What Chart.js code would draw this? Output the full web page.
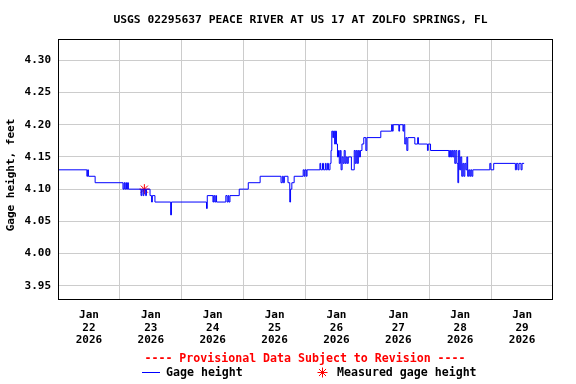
<!DOCTYPE html>
<html><head><meta charset="utf-8">
<script src="https://cdn.jsdelivr.net/npm/chart.js@4"></script>
<style>html,body{margin:0;padding:0;background:#fff}#wrap{width:576px;height:384px;position:relative}</style>
</head><body><div id="wrap"><canvas id="c" width="576" height="384"></canvas></div>
<script>
const chartTitle = 'USGS 02295637 PEACE RIVER AT US 17 AT ZOLFO SPRINGS, FL';
const yAxisTitle = 'Gage height, feet';
const provisionalText = '---- Provisional Data Subject to Revision ----';
const seriesLabels = ['Gage height', 'Measured gage height'];
const monthLabel = 'Jan';
const yearLabel = '2026';
const dayLabels = ['22', '23', '24', '25', '26', '27', '28', '29'];
const yTicks = [3.95, 4.00, 4.05, 4.10, 4.15, 4.20, 4.25, 4.30];

// hours since Jan 22 00:00
const gageHours = [
  0, 11.2, 11.5, 11.8, 14.4, 25.2, 25.6, 25.9, 26.3, 26.6, 27.0, 27.3,
  32.2, 32.5, 33.0, 33.3, 34.0, 34.3, 35.7, 36.3, 36.6, 37.6, 43.7, 44.0,
  57.6, 57.9, 60.1, 60.4, 60.8, 61.2, 61.5, 65.1, 65.6, 66.0, 66.3, 66.7,
  70.3, 73.8, 78.4, 86.5, 87.0, 87.4, 87.8, 89.2, 89.9, 90.2, 90.7, 91.6,
  95.1, 95.5, 95.8, 96.3, 96.6, 101.6, 101.9, 102.6, 103.0, 103.7, 104.0, 104.5,
  104.9, 105.5, 105.9, 106.2, 106.6, 106.9, 107.3, 107.6, 108.0, 108.4, 108.8, 109.1,
  109.5, 109.8, 110.2, 110.6, 111.0, 111.4, 111.8, 112.2, 112.6, 113.8, 114.9, 115.3,
  115.7, 116.1, 116.5, 116.9, 117.3, 117.9, 118.6, 119.4, 119.8, 125.2, 129.4, 129.7,
  130.0, 132.2, 132.5, 133.8, 134.1, 134.5, 134.9, 135.3, 135.7, 138.4, 139.5, 139.8,
  143.3, 143.6, 144.5, 151.6, 151.9, 152.3, 152.7, 153.1, 153.5, 153.9, 154.3, 154.7,
  155.1, 155.4, 155.8, 156.2, 156.6, 157.0, 157.4, 157.8, 158.2, 158.6, 158.9, 159.3,
  159.7, 160.1, 160.5, 160.9, 167.5, 167.9, 169.0, 177.4, 177.8, 178.4, 178.8, 179.6,
  180.0, 180.8
];
const gageValues = [
  4.13, 4.12, 4.13, 4.12, 4.11, 4.10, 4.11, 4.10, 4.11, 4.10, 4.11, 4.10,
  4.09, 4.10, 4.09, 4.10, 4.09, 4.10, 4.09, 4.08, 4.09, 4.08, 4.06, 4.08,
  4.07, 4.09, 4.08, 4.09, 4.08, 4.09, 4.08, 4.09, 4.08, 4.09, 4.08, 4.09,
  4.10, 4.11, 4.12, 4.11, 4.12, 4.11, 4.12, 4.11, 4.08, 4.10, 4.11, 4.12,
  4.13, 4.12, 4.13, 4.12, 4.13, 4.14, 4.13, 4.14, 4.13, 4.14, 4.13, 4.14,
  4.13, 4.14, 4.16, 4.19, 4.18, 4.19, 4.17, 4.19, 4.17, 4.15, 4.16, 4.14,
  4.16, 4.13, 4.15, 4.14, 4.16, 4.14, 4.15, 4.14, 4.15, 4.13, 4.16, 4.14,
  4.16, 4.14, 4.16, 4.15, 4.16, 4.17, 4.18, 4.16, 4.18, 4.19, 4.20, 4.19,
  4.20, 4.19, 4.20, 4.19, 4.20, 4.17, 4.18, 4.16, 4.18, 4.17, 4.18, 4.17,
  4.16, 4.17, 4.16, 4.15, 4.16, 4.15, 4.16, 4.15, 4.16, 4.14, 4.16, 4.14,
  4.11, 4.16, 4.13, 4.15, 4.12, 4.14, 4.12, 4.14, 4.13, 4.15, 4.12, 4.13,
  4.12, 4.13, 4.12, 4.13, 4.14, 4.13, 4.14, 4.13, 4.14, 4.13, 4.14, 4.13,
  4.14, 4.14
];
const measuredHours = [33.5];
const measuredValues = [4.10];

const FONT = "'DejaVu Sans Mono', monospace";
Chart.defaults.font.family = FONT;
Chart.defaults.font.size = 11;
Chart.defaults.font.weight = 'bold';
Chart.defaults.color = '#000';

function drawStar(ctx, x, y, r) {
  ctx.beginPath();
  for (let i = 0; i < 4; i++) {
    const a = i * Math.PI / 4;
    ctx.moveTo(x - r * Math.sin(a), y - r * Math.cos(a));
    ctx.lineTo(x + r * Math.sin(a), y + r * Math.cos(a));
  }
  ctx.stroke();
}

const decor = {
  id: 'decor',
  afterDatasetsDraw(chart) {
    const ctx = chart.ctx, a = chart.chartArea;
    ctx.save();
    ctx.strokeStyle = '#000';
    ctx.lineWidth = 1;
    ctx.strokeRect(Math.round(a.left) + 0.5, Math.round(a.top) + 0.5,
      Math.round(a.right - a.left) - 1, Math.round(a.bottom - a.top) - 1);
    ctx.restore();
  },
  afterDraw(chart) {
    const ctx = chart.ctx;
    ctx.save();
    ctx.font = 'bold 11.3px ' + FONT;
    ctx.fillStyle = '#000';
    ctx.textAlign = 'center';
    ctx.textBaseline = 'middle';
    ctx.fillText(chartTitle, 300.5, 20);
    // y-axis title
    ctx.save();
    ctx.font = 'bold 11px ' + FONT;
    ctx.translate(11.5, 175);
    ctx.rotate(-Math.PI / 2);
    ctx.fillText(yAxisTitle, 0, 0);
    ctx.restore();
    // provisional
    ctx.font = 'bold 11.6px ' + FONT;
    ctx.fillStyle = '#ff0000';
    ctx.fillText(provisionalText, 305, 359);
    // legend
    ctx.textAlign = 'left';
    ctx.fillStyle = '#000';
    ctx.strokeStyle = '#0000ff';
    ctx.lineWidth = 1;
    ctx.beginPath();
    ctx.moveTo(142, 372.5);
    ctx.lineTo(160, 372.5);
    ctx.stroke();
    ctx.fillText(seriesLabels[0], 166, 373);
    ctx.strokeStyle = '#ff0000';
    drawStar(ctx, 322.5, 372.5, 5);
    ctx.fillText(seriesLabels[1], 337, 373);
    ctx.restore();
  }
};

const gageData = gageHours.map((h, i) => ({ x: h, y: gageValues[i] }));
const measuredData = measuredHours.map((h, i) => ({ x: h, y: measuredValues[i] }));

new Chart(document.getElementById('c'), {
  type: 'line',
  data: {
    datasets: [
      {
        label: seriesLabels[0],
        data: gageData,
        borderColor: '#0000ff',
        borderWidth: 1,
        pointRadius: 0,
        stepped: 'before',
        fill: false
      },
      {
        type: 'scatter',
        label: seriesLabels[1],
        data: measuredData,
        pointStyle: 'star',
        pointRadius: 5,
        borderColor: '#ff0000',
        backgroundColor: '#ff0000',
        borderWidth: 1,
        showLine: false
      }
    ]
  },
  options: {
    responsive: false,
    animation: false,
    devicePixelRatio: 1,
    layout: { padding: { top: 39, right: 23, left: 0, bottom: 0 } },
    plugins: { legend: { display: false }, title: { display: false }, tooltip: { enabled: false } },
    scales: {
      x: {
        type: 'linear',
        min: 0,
        max: 192,
        afterBuildTicks: s => { s.ticks = dayLabels.map((d, i) => ({ value: i * 24 })); },
        afterFit: s => { s.height = 84; },
        grid: { color: '#cccccc', lineWidth: 1, drawTicks: false },
        border: { display: false },
        ticks: {
          autoSkip: false,
          maxRotation: 0,
          padding: 9,
          labelOffset: 30.94,
          font: { size: 11, weight: 'bold', lineHeight: 1.13 },
          callback: (v, i) => [monthLabel, dayLabels[i], yearLabel]
        }
      },
      y: {
        min: 3.928,
        max: 4.333,
        afterBuildTicks: s => { s.ticks = yTicks.map(v => ({ value: v })); },
        afterFit: s => { s.width = 58; },
        grid: { color: '#cccccc', lineWidth: 1, drawTicks: false },
        border: { display: false },
        ticks: {
          padding: 7,
          font: { size: 11, weight: 'bold' },
          callback: v => v.toFixed(2)
        }
      }
    }
  },
  plugins: [decor]
});
</script>
</body></html>
